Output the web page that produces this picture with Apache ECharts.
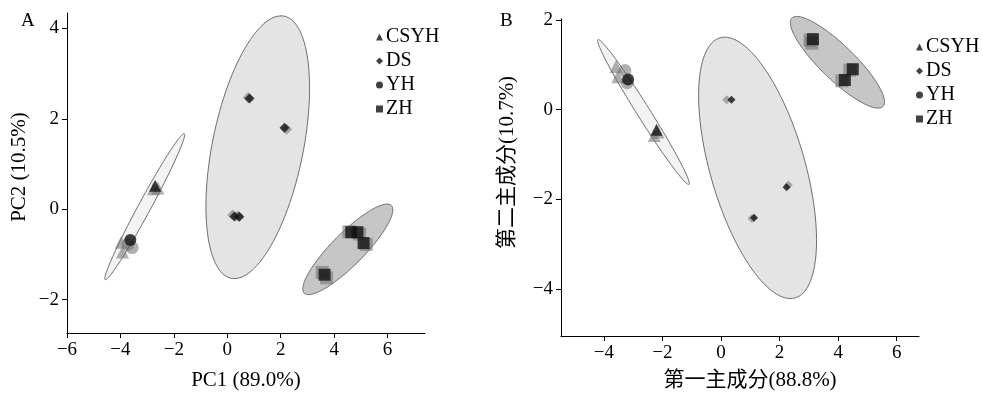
<!DOCTYPE html>
<html lang="en">
<head>
    <meta charset="UTF-8">
    <title>PCA score plots</title>
    <script src="https://cdn.jsdelivr.net/npm/echarts@6.0.0/dist/echarts.min.js"></script>
</head>
<body style="margin:0">
<div id="main" style="width: 983px;height: 396px"></div>
</body>

<script>
    // group names, shared by both panels
    var groups = ['CSYH', 'DS', 'YH', 'ZH'];
    var symbols = {CSYH: 'triangle', DS: 'diamond', YH: 'circle', ZH: 'rect'};

    // panel A : PC1 / PC2 scores (black = front point, gray = replicates behind)
    var scoresA = {
        CSYH: [[-2.7, 0.52]],
        DS: [[0.83, 2.45], [2.14, 1.8], [0.27, -0.16], [0.45, -0.17]],
        YH: [[-3.63, -0.68]],
        ZH: [[4.64, -0.51], [4.87, -0.51], [5.1, -0.75], [3.64, -1.45]]
    };
    var shadowA = {
        CSYH: [[-2.76, 0.45], [-2.6, 0.47], [-3.97, -0.73], [-3.92, -0.95]],
        DS: [[0.78, 2.47], [2.22, 1.77], [0.2, -0.13], [0.4, -0.15]],
        YH: [[-3.56, -0.85], [-3.72, -0.78]],
        ZH: [[4.55, -0.5], [4.95, -0.55], [5.2, -0.78], [3.55, -1.4], [3.72, -1.52]]
    };
    // ellipses: [x1, y1, x2, y2, minor/major]  (ends of long axis)
    var ellipsesA = [
        [-4.57, -1.56, -1.61, 1.67, 0.075],
        [2.13, 4.27, 0.15, -1.53, 0.34],
        [2.88, -1.86, 6.14, 0.08, 0.26]
    ];
    var ellipseFillA = ['#f3f3f3', '#e4e4e4', '#c6c6c6'];

    // panel B
    var scoresB = {
        CSYH: [[-2.2, -0.45]],
        DS: [[0.36, 0.22], [2.24, -1.73], [1.13, -2.41]],
        YH: [[-3.17, 0.67]],
        ZH: [[3.14, 1.57], [4.5, 0.9], [4.23, 0.66]]
    };
    var shadowB = {
        CSYH: [[-2.28, -0.58], [-2.15, -0.5], [-3.58, 0.96], [-3.52, 0.73]],
        DS: [[0.2, 0.22], [2.3, -1.68], [1.06, -2.43]],
        YH: [[-3.28, 0.87], [-3.2, 0.6]],
        ZH: [[3.04, 1.55], [3.1, 1.48], [4.4, 0.88], [4.13, 0.64]]
    };
    var ellipsesB = [
        [-4.2, 1.56, -1.09, -1.67, 0.076],
        [-0.03, 1.6, 2.53, -4.2, 0.35],
        [2.42, 2.04, 5.53, 0.07, 0.27]
    ];
    var ellipseFillB = ['#f3f3f3', '#e4e4e4', '#c6c6c6'];

    var ticksAx = [-6, -4, -2, 0, 2, 4, 6];
    var ticksAy = [-2, 0, 2, 4];
    var ticksBx = [-4, -2, 0, 2, 4, 6];
    var ticksBy = [-4, -2, 0, 2];

    var serif = "'Liberation Serif', 'DejaVu Serif', serif";
    var cjk = "'Liberation Serif', 'Noto Sans CJK SC', serif";

    function minus(v) {
        return String(v).replace('-', '\u2212');
    }

    function axis(idx, min, max, ticks, name, nameGap, font, pad) {
        return {
            type: 'value',
            gridIndex: idx,
            min: min,
            max: max,
            name: name,
            nameLocation: 'middle',
            nameGap: nameGap,
            nameTextStyle: {color: '#000', fontSize: 21, fontFamily: font, padding: pad},
            axisLine: {show: true, onZero: false, lineStyle: {color: '#000', width: 1}},
            axisTick: {show: true, length: 5, customValues: ticks, lineStyle: {color: '#000'}},
            axisLabel: {
                customValues: ticks, color: '#000', fontSize: 19, fontFamily: serif, margin: 8,
                formatter: minus
            },
            splitLine: {show: false}
        };
    }

    function ellipseSeries(idx, list, fills) {
        return {
            type: 'custom',
            xAxisIndex: idx,
            yAxisIndex: idx,
            clip: false,
            z: 1,
            silent: true,
            encode: {x: [0, 2], y: [1, 3]},
            data: list,
            renderItem: function (params, api) {
                var p1 = api.coord([api.value(0), api.value(1)]);
                var p2 = api.coord([api.value(2), api.value(3)]);
                var cx = (p1[0] + p2[0]) / 2, cy = (p1[1] + p2[1]) / 2;
                var dx = p2[0] - p1[0], dy = p2[1] - p1[1];
                var a = Math.sqrt(dx * dx + dy * dy) / 2;
                var b = a * api.value(4);
                var th = Math.atan2(dy, dx);
                var pts = [];
                for (var i = 0; i < 120; i++) {
                    var t = Math.PI * 2 * i / 120;
                    pts.push([
                        cx + a * Math.cos(t) * Math.cos(th) - b * Math.sin(t) * Math.sin(th),
                        cy + a * Math.cos(t) * Math.sin(th) + b * Math.sin(t) * Math.cos(th)
                    ]);
                }
                return {
                    type: 'polygon',
                    shape: {points: pts},
                    style: {fill: fills[params.dataIndex], stroke: '#6e6e6e', lineWidth: 1}
                };
            }
        };
    }

    var series = [ellipseSeries(0, ellipsesA, ellipseFillA), ellipseSeries(1, ellipsesB, ellipseFillB)];
    var sizes = {CSYH: 12, DS: 10, YH: 12, ZH: 12};
    [[scoresA, shadowA], [scoresB, shadowB]].forEach(function (pair, idx) {
        groups.forEach(function (g) {
            var sz = sizes[g] - (idx === 1 && g === 'DS' ? 2 : 0);
            series.push({
                name: g + '_s',
                type: 'scatter',
                xAxisIndex: idx, yAxisIndex: idx,
                symbol: symbols[g],
                symbolSize: sz + 1,
                z: 2,
                itemStyle: {color: 'rgba(105,105,105,0.65)'},
                data: pair[1][g]
            });
            series.push({
                name: g,
                type: 'scatter',
                xAxisIndex: idx, yAxisIndex: idx,
                symbol: symbols[g],
                symbolSize: sz,
                z: 3,
                itemStyle: {color: '#111'},
                data: pair[0][g]
            });
        });
    });

    function legend(left, top) {
        return {
            orient: 'vertical',
            left: left,
            top: top,
            data: groups.map(function (g) {
                return {name: g, icon: symbols[g]};
            }),
            itemWidth: 7,
            itemHeight: 7,
            itemGap: 4,
            selectedMode: false,
            textStyle: {color: '#000', fontSize: 20, fontFamily: serif, padding: [0, 0, 0, -2]}
        };
    }

    var myChart = echarts.init(document.getElementById('main'));

    var option = {
        animation: false,
        backgroundColor: '#fff',
        grid: [
            {left: 67, top: 13, width: 358, height: 324},
            {left: 561, top: 19, width: 358, height: 319}
        ],
        xAxis: [
            axis(0, -6, 7.4, ticksAx, 'PC1 (89.0%)', 37, serif, [0, 0, 0, 0]),
            axis(1, -5.46, 6.76, ticksBx, '第一主成分(88.8%)', 34, cjk, [0, 0, 0, 20])
        ],
        yAxis: [
            axis(0, -2.74, 4.34, ticksAy, 'PC2 (10.5%)', 37, serif, [0, 0, 0, 12]),
            axis(1, -5.05, 2.02, ticksBy, '第二主成分(10.7%)', 43, cjk, [0, 0, 0, 30])
        ],
        legend: [legend(371, 22), legend(911, 32)],
        graphic: [
            {type: 'text', left: 21, top: 12, style: {text: 'A', fill: '#000', fontSize: 19, fontFamily: serif}},
            {type: 'text', left: 500, top: 12, style: {text: 'B', fill: '#000', fontSize: 19, fontFamily: serif}}
        ],
        series: series
    };

    myChart.setOption(option);

</script>

</html>
